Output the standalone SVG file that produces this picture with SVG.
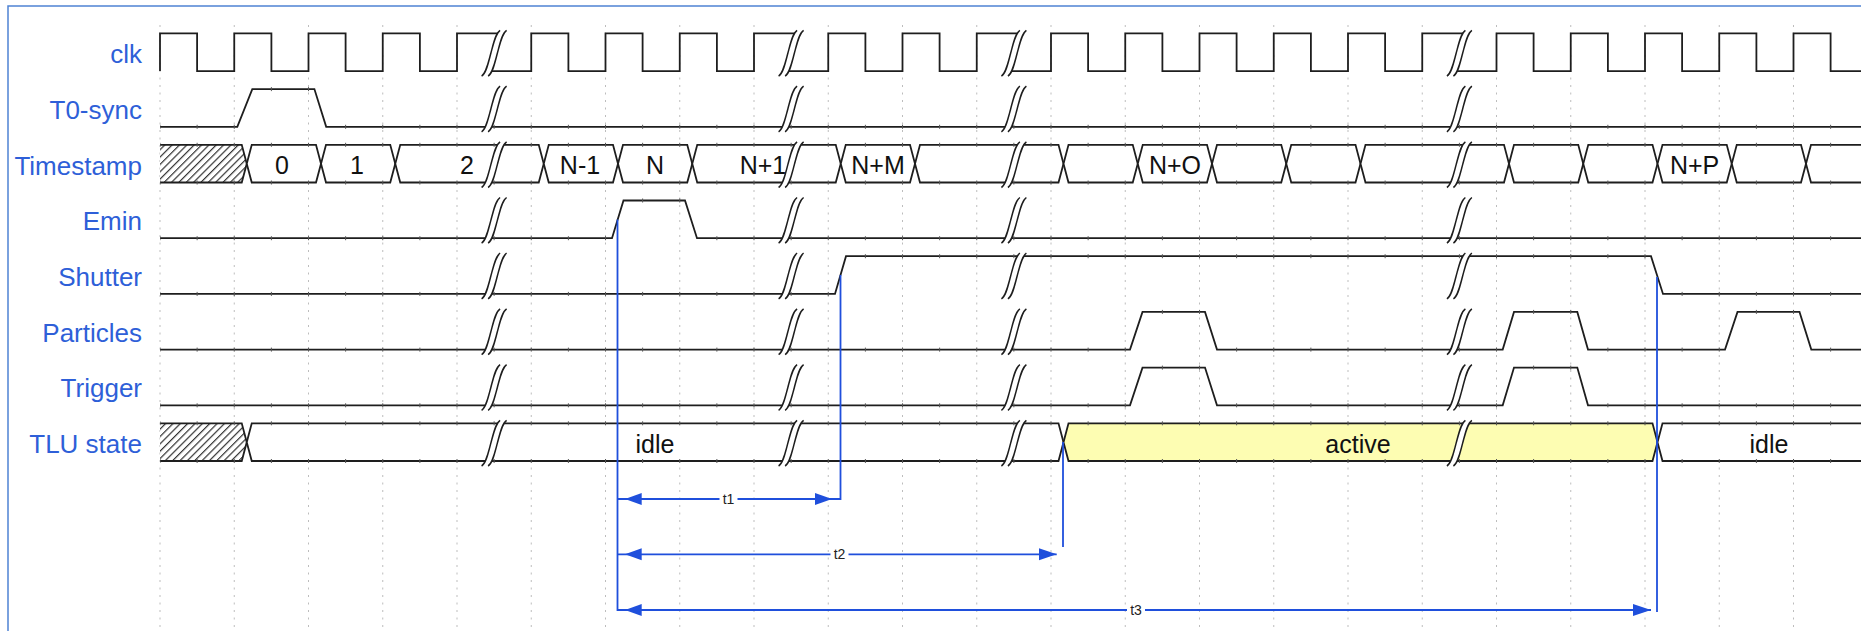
<svg xmlns="http://www.w3.org/2000/svg" width="1861" height="631" viewBox="0 0 1861 631">
<style>
.lbl{font-family:"Liberation Sans",Arial,sans-serif;font-size:26px;fill:#2e5fd8;text-anchor:end}
.val{font-family:"Liberation Sans",Arial,sans-serif;font-size:25px;fill:#111;text-anchor:middle}
.sig{fill:none;stroke:#1e1e1e;stroke-width:1.8}
.bus{fill:#fff;stroke:#1e1e1e;stroke-width:1.8}
.act{fill:#fdfdb2;stroke:#1e1e1e;stroke-width:1.8}
.hat{fill:url(#hatch);stroke:#1e1e1e;stroke-width:1.8}
.grid{fill:none;stroke:#bdbdbd;stroke-width:1;stroke-dasharray:2 5.5}
.tk{fill:url(#ticks)}
.ms{fill:none;stroke:#1f4fdc;stroke-width:1.8}
.ah{fill:#1f4fdc}
.ml{font-family:"Liberation Sans",Arial,sans-serif;font-size:14px;fill:#222;text-anchor:middle}
.brkf{fill:#fff;stroke:none}
.brks{fill:none;stroke:#1e1e1e;stroke-width:1.5}
</style>
<defs>
<pattern id="hatch" patternUnits="userSpaceOnUse" width="5.2" height="10" patternTransform="rotate(45)">
<rect x="0" y="0" width="5.2" height="10" fill="#fff"/>
<line x1="0.6" y1="0" x2="0.6" y2="10" stroke="#333" stroke-width="1.2"/>
</pattern>
<pattern id="ticks" patternUnits="userSpaceOnUse" x="159.5" y="0" width="37.125" height="631">
<rect x="0" y="0" width="1" height="631" fill="#555"/>
</pattern>
<g id="brk">
<path class="brkf" d="M-12.5,42.7 C-8,40 -6,30 -3.25,19.85 C-0.5,9.7 1.5,0 6,-3 L12.5,-3 C8,0 6,9.7 3.25,19.85 C0.5,30 -1.5,40 -6,42.7 Z"/>
<path class="brks" d="M-12.5,42.7 C-8,40 -6,30 -3.25,19.85 C-0.5,9.7 1.5,0 6,-3 M-6,42.7 C-1.5,40 0.5,30 3.25,19.85 C6,9.7 8,0 12.5,-3"/>
</g>
</defs>
<rect x="0" y="0" width="1861" height="631" fill="#fff"/>
<path d="M8,631 V6 H1861" fill="none" stroke="#4f83d4" stroke-width="1.5"/>
<g id="grid">
<path class="grid" d="M160,25V631M234.25,25V631M308.5,25V631M382.75,25V631M457,25V631M531.25,25V631M605.5,25V631M679.75,25V631M754,25V631M828.25,25V631M902.5,25V631M976.75,25V631M1051,25V631M1125.25,25V631M1199.5,25V631M1273.75,25V631M1348,25V631M1422.25,25V631M1496.5,25V631M1570.75,25V631M1645,25V631M1719.25,25V631M1793.5,25V631"/>
</g>
<g id="clk">
<text class="lbl" x="142" y="63">clk</text>
<path class="sig" d="M160,71.1 V33.4 H197.1 V71.1 H234.25 V33.4 H271.4 V71.1 H308.5 V33.4 H345.6 V71.1 H382.75 V33.4 H419.9 V71.1 H457 V33.4 H501.8 L487.4,71.1 H531.25 V33.4 H568.4 V71.1 H605.5 V33.4 H642.6 V71.1 H679.75 V33.4 H716.9 V71.1 H754 V33.4 H798.8 L784.4,71.1 H828.25 V33.4 H865.4 V71.1 H902.5 V33.4 H939.6 V71.1 H976.75 V33.4 H1021.6 L1007.2,71.1 H1051 V33.4 H1088.1 V71.1 H1125.25 V33.4 H1162.4 V71.1 H1199.5 V33.4 H1236.6 V71.1 H1273.75 V33.4 H1310.9 V71.1 H1348 V33.4 H1385.1 V71.1 H1422.25 V33.4 H1467.1 L1452.7,71.1 H1496.5 V33.4 H1533.6 V71.1 H1570.75 V33.4 H1607.9 V71.1 H1645 V33.4 H1682.1 V71.1 H1719.25 V33.4 H1756.4 V71.1 H1793.5 V33.4 H1830.6 V71.1 H1861"/>
<use href="#brk" x="494.1" y="33.4"/><use href="#brk" x="791.1" y="33.4"/><use href="#brk" x="1013.9" y="33.4"/><use href="#brk" x="1459.4" y="33.4"/>
</g>
<g id="t0sync">
<text class="lbl" x="142" y="118.8">T0-sync</text>
<path class="sig" d="M160,126.8 H237.3 L252.3,89.1 H314.4 L326.2,126.8 H1861"/>
<rect class="tk" x="160" y="124.8" width="77" height="4"/><rect class="tk" x="252.5" y="87.1" width="62" height="4"/><rect class="tk" x="326.5" y="124.8" width="1535" height="4"/>
<use href="#brk" x="494.1" y="89.1"/><use href="#brk" x="791.1" y="89.1"/><use href="#brk" x="1013.9" y="89.1"/><use href="#brk" x="1459.4" y="89.1"/>
</g>
<g id="timestamp">
<text class="lbl" x="142" y="174.5">Timestamp</text>
<path class="hat" d="M160,144.8 H241.75 L246.75,163.65 L241.75,182.5 H160"/>
<polygon class="bus" points="246.75,163.65 251.75,144.8 316,144.8 321,163.65 316,182.5 251.75,182.5"/>
<polygon class="bus" points="321,163.65 326,144.8 390.25,144.8 395.25,163.65 390.25,182.5 326,182.5"/>
<polygon class="bus" points="395.25,163.65 400.25,144.8 538.75,144.8 543.75,163.65 538.75,182.5 400.25,182.5"/>
<polygon class="bus" points="543.75,163.65 548.75,144.8 613,144.8 618,163.65 613,182.5 548.75,182.5"/>
<polygon class="bus" points="618,163.65 623,144.8 687.25,144.8 692.25,163.65 687.25,182.5 623,182.5"/>
<polygon class="bus" points="692.25,163.65 697.25,144.8 835.75,144.8 840.75,163.65 835.75,182.5 697.25,182.5"/>
<polygon class="bus" points="840.75,163.65 845.75,144.8 910,144.8 915,163.65 910,182.5 845.75,182.5"/>
<polygon class="bus" points="915,163.65 920,144.8 1058.5,144.8 1063.5,163.65 1058.5,182.5 920,182.5"/>
<polygon class="bus" points="1063.5,163.65 1068.5,144.8 1132.75,144.8 1137.75,163.65 1132.75,182.5 1068.5,182.5"/>
<polygon class="bus" points="1137.75,163.65 1142.75,144.8 1207,144.8 1212,163.65 1207,182.5 1142.75,182.5"/>
<polygon class="bus" points="1212,163.65 1217,144.8 1281.25,144.8 1286.25,163.65 1281.25,182.5 1217,182.5"/>
<polygon class="bus" points="1286.25,163.65 1291.25,144.8 1355.5,144.8 1360.5,163.65 1355.5,182.5 1291.25,182.5"/>
<polygon class="bus" points="1360.5,163.65 1365.5,144.8 1504,144.8 1509,163.65 1504,182.5 1365.5,182.5"/>
<polygon class="bus" points="1509,163.65 1514,144.8 1578.25,144.8 1583.25,163.65 1578.25,182.5 1514,182.5"/>
<polygon class="bus" points="1583.25,163.65 1588.25,144.8 1652.5,144.8 1657.5,163.65 1652.5,182.5 1588.25,182.5"/>
<polygon class="bus" points="1657.5,163.65 1662.5,144.8 1726.75,144.8 1731.75,163.65 1726.75,182.5 1662.5,182.5"/>
<polygon class="bus" points="1731.75,163.65 1736.75,144.8 1801,144.8 1806,163.65 1801,182.5 1736.75,182.5"/>
<polygon class="bus" points="1806,163.65 1811,144.8 1875,144.8 1875,182.5 1811,182.5"/>
<rect class="tk" x="160" y="142.8" width="1701" height="4"/><rect class="tk" x="160" y="180.5" width="1701" height="4"/>
<text class="val" x="282" y="174.3">0</text>
<text class="val" x="357" y="174.3">1</text>
<text class="val" x="467" y="174.3">2</text>
<text class="val" x="580" y="174.3">N-1</text>
<text class="val" x="655" y="174.3">N</text>
<text class="val" x="763" y="174.3">N+1</text>
<text class="val" x="878" y="174.3">N+M</text>
<text class="val" x="1175" y="174.3">N+O</text>
<text class="val" x="1694.6" y="174.3">N+P</text>
<use href="#brk" x="494.1" y="144.8"/><use href="#brk" x="791.1" y="144.8"/><use href="#brk" x="1013.9" y="144.8"/><use href="#brk" x="1459.4" y="144.8"/>
</g>
<g id="emin">
<text class="lbl" x="142" y="230.2">Emin</text>
<path class="sig" d="M160,238.2 H612 L623.5,200.5 H685 L697,238.2 H1861"/>
<rect class="tk" x="160" y="236.2" width="452" height="4"/><rect class="tk" x="623.5" y="198.5" width="61.5" height="4"/><rect class="tk" x="697" y="236.2" width="1164" height="4"/>
<use href="#brk" x="494.1" y="200.5"/><use href="#brk" x="791.1" y="200.5"/><use href="#brk" x="1013.9" y="200.5"/><use href="#brk" x="1459.4" y="200.5"/>
</g>
<g id="shutter">
<text class="lbl" x="142" y="285.9">Shutter</text>
<path class="sig" d="M160,293.9 H835 L846,256.2 H1651 L1663,293.9 H1861"/>
<rect class="tk" x="160" y="291.9" width="675" height="4"/><rect class="tk" x="846" y="254.2" width="805" height="4"/><rect class="tk" x="1663" y="291.9" width="198" height="4"/>
<use href="#brk" x="494.1" y="256.2"/><use href="#brk" x="791.1" y="256.2"/><use href="#brk" x="1013.9" y="256.2"/><use href="#brk" x="1459.4" y="256.2"/>
</g>
<g id="particles">
<text class="lbl" x="142" y="341.6">Particles</text>
<path class="sig" d="M160,349.6 H1130 L1142.5,311.9 H1205 L1217,349.6 H1502.7 L1514,311.9 H1577.3 L1588,349.6 H1725 L1737.5,311.9 H1799.5 L1811.3,349.6 H1861"/>
<rect class="tk" x="160" y="347.6" width="970" height="4"/><rect class="tk" x="1142.5" y="309.9" width="62.5" height="4"/><rect class="tk" x="1217" y="347.6" width="285.7" height="4"/><rect class="tk" x="1514" y="309.9" width="63.3" height="4"/><rect class="tk" x="1588" y="347.6" width="137" height="4"/><rect class="tk" x="1737.5" y="309.9" width="62" height="4"/><rect class="tk" x="1811.3" y="347.6" width="50" height="4"/>
<use href="#brk" x="494.1" y="311.9"/><use href="#brk" x="791.1" y="311.9"/><use href="#brk" x="1013.9" y="311.9"/><use href="#brk" x="1459.4" y="311.9"/>
</g>
<g id="trigger">
<text class="lbl" x="142" y="397.3">Trigger</text>
<path class="sig" d="M160,405.3 H1130 L1142.5,367.6 H1205 L1217,405.3 H1502.7 L1514,367.6 H1577.3 L1588,405.3 H1861"/>
<rect class="tk" x="160" y="403.3" width="970" height="4"/><rect class="tk" x="1142.5" y="365.6" width="62.5" height="4"/><rect class="tk" x="1217" y="403.3" width="285.7" height="4"/><rect class="tk" x="1514" y="365.6" width="63.3" height="4"/><rect class="tk" x="1588" y="403.3" width="273" height="4"/>
<use href="#brk" x="494.1" y="367.6"/><use href="#brk" x="791.1" y="367.6"/><use href="#brk" x="1013.9" y="367.6"/><use href="#brk" x="1459.4" y="367.6"/>
</g>
<g id="tlustate">
<text class="lbl" x="142" y="453">TLU state</text>
<path class="hat" d="M160,423.3 H241.75 L246.75,442.15 L241.75,461 H160"/>
<polygon class="bus" points="246.75,442.15 251.75,423.3 1058.5,423.3 1063.5,442.15 1058.5,461 251.75,461"/>
<polygon class="act" points="1063.5,442.15 1068.5,423.3 1652.5,423.3 1657.5,442.15 1652.5,461 1068.5,461"/>
<polygon class="bus" points="1657.5,442.15 1662.5,423.3 1875,423.3 1875,461 1662.5,461"/>
<rect class="tk" x="160" y="421.3" width="1701" height="4"/><rect class="tk" x="160" y="459" width="1701" height="4"/>
<text class="val" x="655" y="452.8">idle</text>
<text class="val" x="1358" y="452.8">active</text>
<text class="val" x="1769" y="452.8">idle</text>
<use href="#brk" x="494.1" y="423.3"/><use href="#brk" x="791.1" y="423.3"/><use href="#brk" x="1013.9" y="423.3"/><use href="#brk" x="1459.4" y="423.3"/>
</g>
<g id="connectors">
<path class="ms" d="M617.5,219.5 V610 H1651"/>
<path class="ms" d="M840.5,275 V499 H617.5"/>
<path class="ms" d="M617.5,554.3 H1056.7"/>
<path class="ms" d="M1063,442 V547"/>
<path class="ms" d="M1657,277 V612"/>
<polygon class="ah" points="625,499 641.7,493 641.7,505"/>
<polygon class="ah" points="832,499 815,493 815,505"/>
<polygon class="ah" points="625,554.3 641.7,548.3 641.7,560.3"/>
<polygon class="ah" points="1056.7,554.3 1039,548.3 1039,560.3"/>
<polygon class="ah" points="625,610 641.7,604 641.7,616"/>
<polygon class="ah" points="1651,610 1633,604 1633,616"/>
<rect x="719.5" y="492" width="18" height="14" fill="#fff"/>
<text class="ml" x="728.5" y="504">t1</text>
<rect x="830.5" y="547.3" width="18" height="14" fill="#fff"/>
<text class="ml" x="839.5" y="559.3">t2</text>
<rect x="1127" y="603" width="18" height="14" fill="#fff"/>
<text class="ml" x="1136" y="615">t3</text>
</g>
</svg>
